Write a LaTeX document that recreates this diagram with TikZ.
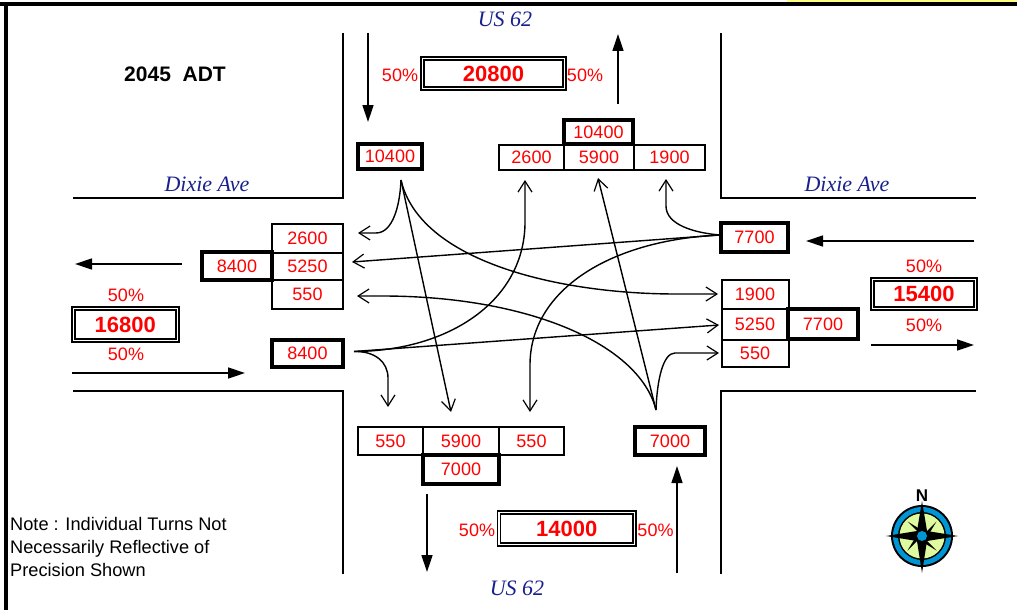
\documentclass[tikz,border=0pt]{standalone}
\usepackage{fontspec}
\setmainfont{Liberation Sans}
\newfontfamily\roadfont{Liberation Serif}
\usetikzlibrary{arrows.meta}
\definecolor{roadblue}{RGB}{24,32,140}
\definecolor{valred}{RGB}{255,0,0}
\definecolor{compblue}{RGB}{0,150,214}
\definecolor{compgreen}{RGB}{224,250,160}
\definecolor{edgeyellow}{RGB}{255,255,128}
\tikzset{
  x=1pt,y=-1pt,
  cellbox/.style={draw=black,line width=2pt,inner sep=0pt,text=valred,font=\fontsize{18}{20}\selectfont},
  heavybox/.style={cellbox,line width=3.6pt},
  totalbox/.style={draw=black,inner sep=0pt,line width=1.8pt,double,double distance=1.3pt,text=valred,font=\fontsize{22}{24}\selectfont\bfseries},
  pct/.style={inner sep=0pt,text=valred,font=\fontsize{18}{20}\selectfont},
  road/.style={inner sep=0pt,text=roadblue,font=\fontsize{22}{24}\selectfont\roadfont\itshape},
  curb/.style={line width=2pt,line cap=butt},
  flow/.style={line width=1.4pt,-{Straight Barb[length=11pt,width=14pt,line width=1.2pt]}},
  leg/.style={line width=1.4pt,-{Triangle[length=17pt,width=11pt]}},
  plain/.style={inner sep=0pt}
}
\begin{document}
\begin{tikzpicture}
\useasboundingbox (0,0) rectangle (1017,610);
% frame
\fill[edgeyellow] (787,0) rectangle (1017,2);
\fill[black] (0,2) rectangle (1017,6);
\fill[black] (4,2) rectangle (8,610);
% curbs
\draw[curb] (73,198) -- (343,198) -- (343,33);
\draw[curb] (721,33) -- (721,198) -- (976,198);
\draw[curb] (73,391) -- (343,391) -- (343,574);
\draw[curb] (721,574) -- (721,391) -- (976,391);
% road names and titles
\node[road] (us62n) at (505,19.5) {US 62};
\node[road] (us62s) at (517,588) {US 62};
\node[road] (dixw) at (207,184.5) {Dixie Ave};
\node[road] (dixe) at (847,184.5) {Dixie Ave};
\node[plain,font=\fontsize{21}{23}\selectfont\bfseries] (title) at (175,74) {2045\ \ ADT};
\node[plain,anchor=north west,align=left,font=\fontsize{18.2}{23}\selectfont] (note) at (10,517) {Note : Individual Turns Not\\Necessarily Reflective of\\Precision Shown};
% north
\node[totalbox,minimum width=142.5pt,minimum height=30.5pt] (tn) at (493.5,73.5) {20800};
\node[pct] (pn1) at (400,75) {50\%};
\node[pct] (pn2) at (585,75) {50\%};
\node[cellbox,minimum width=65pt,minimum height=25pt] (t1) at (531.5,157) {2600};
\node[cellbox,minimum width=70pt,minimum height=25pt] (t2) at (599,157) {5900};
\node[cellbox,minimum width=71pt,minimum height=25pt] (t3) at (669.5,157) {1900};
\node[heavybox,minimum width=69pt,minimum height=24pt] (t0) at (598.5,132) {10400};
\node[heavybox,minimum width=64pt,minimum height=25pt] (tl) at (390,156.5) {10400};
% west
\node[cellbox,minimum width=71pt,minimum height=29pt] (l1) at (307.5,238.5) {2600};
\node[cellbox,minimum width=71pt,minimum height=27pt] (l2) at (307.5,266.5) {5250};
\node[cellbox,minimum width=71pt,minimum height=29pt] (l3) at (307.5,294.5) {550};
\node[heavybox,minimum width=70pt,minimum height=28pt] (l0) at (237,266) {8400};
\node[heavybox,minimum width=71pt,minimum height=27pt] (lw) at (307.5,353.5) {8400};
\node[totalbox,minimum width=104pt,minimum height=31.5pt] (tw) at (125.3,324.5) {16800};
\node[pct] (pw1) at (126,295) {50\%};
\node[pct] (pw2) at (126,354) {50\%};
% east
\node[heavybox,minimum width=67pt,minimum height=29pt] (re) at (754.5,237.5) {7700};
\node[cellbox,minimum width=67pt,minimum height=29pt] (r1) at (755,294.5) {1900};
\node[cellbox,minimum width=67pt,minimum height=31pt] (r2) at (755,324.5) {5250};
\node[cellbox,minimum width=67pt,minimum height=27pt] (r3) at (755,353.5) {550};
\node[heavybox,minimum width=70pt,minimum height=30pt] (r0) at (823,324) {7700};
\node[totalbox,minimum width=103.5pt,minimum height=29pt] (te) at (924,294.3) {15400};
\node[pct] (pe1) at (924,266) {50\%};
\node[pct] (pe2) at (924,325) {50\%};
% south
\node[cellbox,minimum width=65pt,minimum height=28pt] (b1) at (390.5,441) {550};
\node[cellbox,minimum width=76pt,minimum height=28pt] (b2) at (461,441) {5900};
\node[cellbox,minimum width=65pt,minimum height=28pt] (b3) at (531.5,441) {550};
\node[heavybox,minimum width=76pt,minimum height=29pt] (b0) at (461,469.5) {7000};
\node[heavybox,minimum width=70pt,minimum height=28pt] (bs) at (670,441) {7000};
\node[totalbox,minimum width=135.5pt,minimum height=32pt] (ts) at (566.7,528.7) {14000};
\node[pct] (ps1) at (477,530) {50\%};
\node[pct] (ps2) at (655.5,530) {50\%};
% approach / departure arrows
\coordinate (an1) at (368,33);  \coordinate (an2) at (368,122);
\coordinate (dn1) at (618,104); \coordinate (dn2) at (618,34);
\coordinate (dw1) at (182,264); \coordinate (dw2) at (75,264);
\coordinate (aw1) at (72,373);  \coordinate (aw2) at (245,373);
\coordinate (ae1) at (974,241); \coordinate (ae2) at (806,241);
\coordinate (de1) at (871,345); \coordinate (de2) at (974,345);
\coordinate (ds1) at (427,494); \coordinate (ds2) at (427,572);
\coordinate (as1) at (677,573); \coordinate (as2) at (677,466);
\draw[leg] (an1) -- (an2);
\draw[leg] (dn1) -- (dn2);
\draw[leg] (dw1) -- (dw2);
\draw[leg] (aw1) -- (aw2);
\draw[leg] (ae1) -- (ae2);
\draw[leg] (de1) -- (de2);
\draw[leg] (ds1) -- (ds2);
\draw[leg] (as1) -- (as2);
% movement sources and targets
\coordinate (srcn) at (401,180);
\coordinate (srce) at (720,235);
\coordinate (srcw) at (354,351.5);
\coordinate (srcs) at (656,410);
\coordinate (tgl1) at (358,233);
\coordinate (tgl2) at (352,262);
\coordinate (tgl3) at (357,296);
\coordinate (tgb1) at (388,407);
\coordinate (tgb2) at (451,412);
\coordinate (tgb3) at (530,412);
\coordinate (tgt1) at (525,180);
\coordinate (tgt2) at (598,178);
\coordinate (tgt3) at (666,179);
\coordinate (tgr1) at (718,294);
\coordinate (tgr2) at (719,325);
\coordinate (tgr3) at (719,353);
% from north
\draw[flow] (srcn) .. controls (400,205) and (393,233) .. (376,233) -- (tgl1);
\draw[flow] (srcn) -- (tgb2);
\draw[flow] (srcn) .. controls (420,262) and (560,294) .. (676,294) -- (tgr1);
% from east
\draw[flow] (srce) -- (tgl2);
\draw[flow] (srce) .. controls (695,233) and (666,225) .. (666,206) -- (tgt3);
\draw[flow] (srce) .. controls (610,240) and (530,290) .. (530,365) -- (tgb3);
% from west
\draw[flow] (srcw) -- (tgr2);
\draw[flow] (srcw) .. controls (450,351) and (525,300) .. (525,222) -- (tgt1);
\draw[flow] (srcw) .. controls (375,351) and (388,362) .. (388,378) -- (tgb1);
% from south
\draw[flow] (srcs) -- (tgt2);
\draw[flow] (srcs) .. controls (657,380) and (663,353) .. (675,353) -- (tgr3);
\draw[flow] (srcs) .. controls (640,345) and (530,296) .. (382,296) -- (tgl3);
% compass
\begin{scope}[shift={(922,536)}]
  \fill[black] (0,0) circle (31);
  \fill[compblue] (0,0) circle (29);
  \fill[black] (0,0) circle (24);
  \fill[compgreen] (0,0) circle (22.5);
  \fill[black] (-14.5,-14.5) -- (3.5,-3.5) -- (14.5,-14.5) -- (3.5,3.5) -- (14.5,14.5) -- (-3.5,3.5) -- (-14.5,14.5) -- (-3.5,-3.5) -- cycle;
  \fill[black] (0,-35) -- (5,-5) -- (36,0) -- (5,5) -- (0,37) -- (-5,5) -- (-36,0) -- (-5,-5) -- cycle;
  \fill[compblue] (0,0) circle (5);
\end{scope}
\node[plain,font=\fontsize{17}{18}\selectfont\bfseries] (north) at (922,495.5) {N};
\end{tikzpicture}
\end{document}
